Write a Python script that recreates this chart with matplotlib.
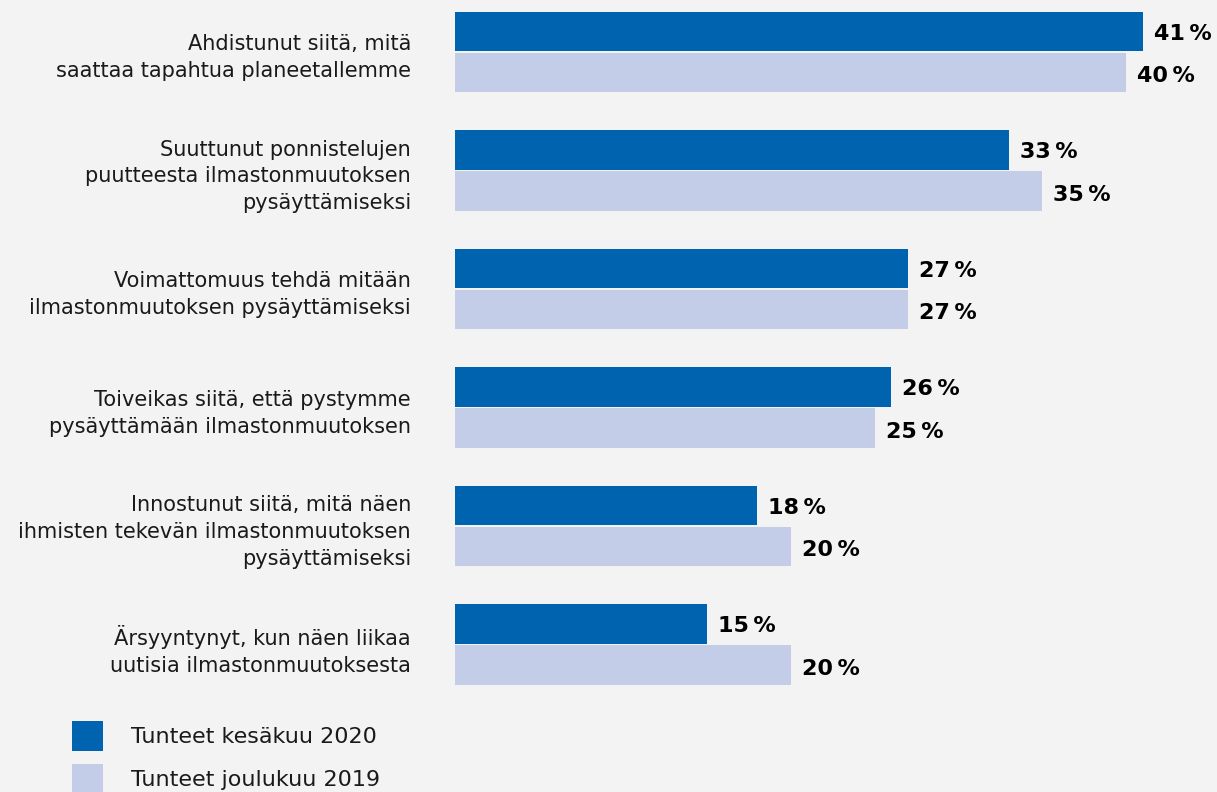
import matplotlib
matplotlib.use("Agg")
import matplotlib.pyplot as plt
from matplotlib.patches import Rectangle

categories = [
    "Ahdistunut siitä, mitä\nsaattaa tapahtua planeetallemme",
    "Suuttunut ponnistelujen\npuutteesta ilmastonmuutoksen\npysäyttämiseksi",
    "Voimattomuus tehdä mitään\nilmastonmuutoksen pysäyttämiseksi",
    "Toiveikas siitä, että pystymme\npysäyttämään ilmastonmuutoksen",
    "Innostunut siitä, mitä näen\nihmisten tekevän ilmastonmuutoksen\npysäyttämiseksi",
    "Ärsyyntynyt, kun näen liikaa\nuutisia ilmastonmuutoksesta",
]
series_names = ["Tunteet kesäkuu 2020", "Tunteet joulukuu 2019"]
values_2020 = [41, 33, 27, 26, 18, 15]
values_2019 = [40, 35, 27, 25, 20, 20]

DARK = "#0063AF"
LIGHT = "#C3CDE8"
BG = "#F3F3F3"
TXT = "#1a1a1a"

W, H = 1217, 792
fig = plt.figure(figsize=(W / 100, H / 100), dpi=100, facecolor=BG)
left_px = 455
ax = fig.add_axes([left_px / W, 0, 1 - left_px / W, 1])
ax.set_facecolor(BG)

px_per_unit = 16.78
ax.set_xlim(0, (W - left_px) / px_per_unit)
pitch = 118.5
c0 = 52
ax.set_ylim((H - c0) / pitch, (0 - c0) / pitch)

bh = 39.5 / pitch
off = 20.5 / pitch
ys = list(range(len(categories)))
ax.barh([y - off for y in ys], values_2020, height=bh, color=DARK, linewidth=0)
ax.barh([y + off for y in ys], values_2019, height=bh, color=LIGHT, linewidth=0)

gap = 11 / px_per_unit
for y, v in zip(ys, values_2020):
    ax.text(v + gap, y - off + 0.02, f"{v}\u2009%", va="center", ha="left",
            fontsize=16, fontweight="bold", color="black")
for y, v in zip(ys, values_2019):
    ax.text(v + gap, y + off + 0.03, f"{v}\u2009%", va="center", ha="left",
            fontsize=16, fontweight="bold", color="black")

for y, lab in zip(ys, categories):
    ax.text(-(455 - 411) / px_per_unit, y + 0.05, lab, ha="right", va="center",
            fontsize=15, color=TXT, linespacing=1.43, clip_on=False)

ax.axis("off")

# legend
for i, (name, col) in enumerate(zip(series_names, [DARK, LIGHT])):
    top = 721 + i * 43
    fig.patches.append(Rectangle((72 / W, 1 - (top + 30) / H), 31 / W, 30 / H,
                                 transform=fig.transFigure, facecolor=col,
                                 edgecolor="none"))
    fig.text(131 / W, 1 - (top + 16) / H, name, ha="left", va="center",
             fontsize=16, color=TXT)

fig.savefig("out.png", dpi=100, facecolor=BG)
